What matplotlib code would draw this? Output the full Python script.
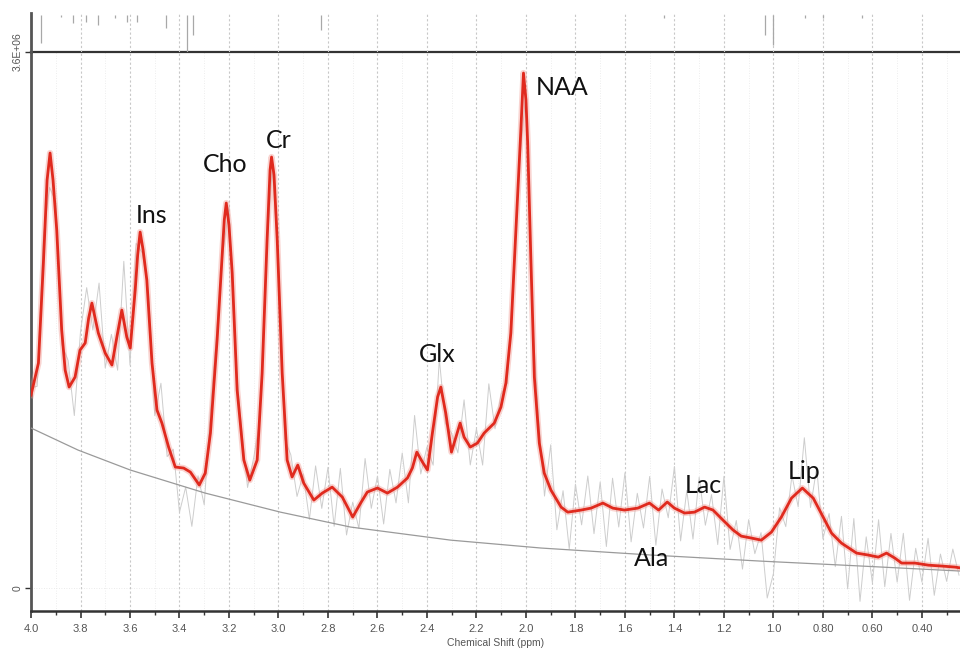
import numpy as np
import matplotlib.pyplot as plt
from matplotlib.ticker import MultipleLocator, FixedLocator

plt.rcParams['font.family'] = ['Liberation Sans', 'DejaVu Sans']

# fitted spectrum (red), chemical shift in ppm, intensity in 1e6
fit_ppm = [4.000, 3.970, 3.950, 3.935, 3.923, 3.911, 3.896, 3.876, 3.862, 3.846,
           3.822, 3.802, 3.781, 3.767, 3.754, 3.741, 3.728, 3.700, 3.673, 3.653,
           3.633, 3.613, 3.599, 3.579, 3.569, 3.559, 3.547, 3.532, 3.511, 3.491,
           3.471, 3.444, 3.417, 3.383, 3.356, 3.320, 3.296, 3.275, 3.248, 3.228,
           3.219, 3.211, 3.200, 3.187, 3.167, 3.140, 3.116, 3.086, 3.066, 3.046,
           3.034, 3.028, 3.018, 3.005, 2.985, 2.965, 2.945, 2.922, 2.898, 2.857,
           2.823, 2.783, 2.742, 2.721, 2.700, 2.668, 2.641, 2.600, 2.560, 2.519,
           2.479, 2.459, 2.441, 2.418, 2.398, 2.378, 2.357, 2.344, 2.324, 2.301,
           2.283, 2.266, 2.250, 2.225, 2.196, 2.169, 2.128, 2.101, 2.081, 2.061,
           2.040, 2.020, 2.010, 2.000, 1.993, 1.980, 1.966, 1.946, 1.926, 1.899,
           1.858, 1.831, 1.777, 1.737, 1.689, 1.649, 1.602, 1.548, 1.501, 1.464,
           1.429, 1.400, 1.359, 1.319, 1.278, 1.244, 1.204, 1.163, 1.130, 1.089,
           1.049, 1.008, 0.968, 0.927, 0.883, 0.839, 0.799, 0.765, 0.725, 0.664,
           0.617, 0.576, 0.543, 0.509, 0.482, 0.428, 0.374, 0.320, 0.266, 0.239]
fit_val = [1.296, 1.511, 2.183, 2.740, 2.922, 2.740, 2.404, 1.733, 1.464, 1.350,
           1.417, 1.598, 1.646, 1.813, 1.914, 1.813, 1.713, 1.578, 1.498, 1.686,
           1.867, 1.686, 1.612, 2.001, 2.237, 2.391, 2.270, 2.069, 1.511, 1.196,
           1.108, 0.947, 0.813, 0.806, 0.779, 0.692, 0.772, 1.041, 1.666, 2.223,
           2.472, 2.586, 2.438, 2.116, 1.330, 0.860, 0.725, 0.860, 1.444, 2.337,
           2.807, 2.895, 2.774, 2.337, 1.444, 0.860, 0.746, 0.826, 0.705, 0.591,
           0.638, 0.678, 0.611, 0.544, 0.477, 0.571, 0.645, 0.672, 0.638, 0.678,
           0.739, 0.806, 0.913, 0.846, 0.793, 1.041, 1.283, 1.350, 1.175, 0.913,
           1.014, 1.108, 1.014, 0.947, 0.974, 1.041, 1.108, 1.216, 1.377, 1.713,
           2.425, 3.096, 3.459, 3.278, 2.989, 2.203, 1.417, 0.974, 0.772, 0.658,
           0.544, 0.510, 0.524, 0.537, 0.571, 0.537, 0.524, 0.537, 0.571, 0.524,
           0.578, 0.537, 0.504, 0.510, 0.544, 0.524, 0.457, 0.390, 0.349, 0.336,
           0.322, 0.376, 0.477, 0.604, 0.672, 0.604, 0.477, 0.369, 0.302, 0.235,
           0.222, 0.208, 0.235, 0.201, 0.168, 0.168, 0.154, 0.148, 0.141, 0.134]

# baseline (thin grey curve)
base_ppm = [4.000, 3.810, 3.599, 3.296, 2.992, 2.709, 2.304, 1.939, 1.494, 1.049, 0.644, 0.239]
base_val = [1.075, 0.927, 0.793, 0.638, 0.510, 0.410, 0.322, 0.269, 0.222, 0.181, 0.148, 0.114]

# residual of raw data vs fit, every 0.025 ppm from 4.0 to 0.25
resid = [0.05, -0.12, 0.18, -0.20, 0.10, -0.08, 0.15, -0.25, 0.12, 0.30,
         -0.15, 0.35, -0.10, 0.20, -0.25, 0.40, -0.12, 0.22, -0.05, 0.10,
         -0.18, 0.25, -0.10, 0.08, -0.30, -0.12, -0.35, 0.05, -0.20, 0.15,
         0.10, -0.06, 0.12, -0.08, 0.05, -0.10, 0.08, -0.05, 0.06, -0.04,
         0.08, -0.15, 0.12, -0.20, 0.05, -0.18, 0.22, -0.10, 0.15, -0.25,
         0.18, -0.20, 0.10, -0.15, 0.25, -0.12, 0.08, -0.22, 0.15, -0.10,
         0.20, -0.18, 0.30, -0.10, 0.15, -0.25, 0.22, -0.08, 0.12, -0.15,
         0.25, -0.12, 0.10, -0.20, 0.30, -0.05, 0.08, -0.10, 0.06, -0.05,
         0.05, -0.08, 0.10, -0.15, 0.30, -0.20, 0.12, -0.25, 0.18, -0.10,
         0.22, -0.18, 0.15, -0.28, 0.20, -0.12, 0.25, -0.22, 0.10, -0.15,
         0.18, -0.25, 0.12, -0.10, 0.28, -0.20, 0.15, -0.18, 0.22, -0.12,
         0.10, -0.20, 0.30, -0.15, 0.08, -0.22, 0.12, -0.10, 0.05, -0.42,
         -0.30, 0.08, -0.12, 0.15, -0.10, 0.35, -0.08, 0.25, -0.15, 0.10,
         -0.20, 0.18, -0.28, 0.22, -0.32, 0.12, -0.18, 0.25, -0.22, 0.15,
         -0.15, 0.20, -0.25, 0.10, -0.12, 0.18, -0.20, 0.08, -0.10, 0.12,
         -0.05]
resid_ppm = np.linspace(4.0, 0.25, len(resid))

# spikes in the residual strip on top (lower end, strip goes 0..1)
top_ppm = [3.961, 3.879, 3.830, 3.777, 3.729, 3.660, 3.611, 3.571, 3.453, 3.368,
           3.344, 2.830, 1.441, 1.036, 1.000, 0.874, 0.798, 0.644]
top_low = [0.23, 0.90, 0.74, 0.77, 0.69, 0.88, 0.77, 0.77, 0.62, 0.0,
           0.44, 0.56, 0.88, 0.44, 0.18, 0.88, 0.88, 0.88]

labels = ['Ins', 'Cho', 'Cr', 'Glx', 'NAA', 'Lac', 'Lip', 'Ala']
lab_ppm = [3.514, 3.215, 3.000, 2.360, 1.854, 1.283, 0.874, 1.494]
lab_val = [2.505, 2.848, 3.009, 1.572, 3.365, 0.692, 0.786, 0.201]

fit_ppm = np.array(fit_ppm)
fit_val = np.array(fit_val)
# np.interp needs increasing x
raw_val = np.interp(resid_ppm, fit_ppm[::-1], fit_val[::-1]) + np.array(resid)

fig = plt.figure(figsize=(9.6, 6.58), dpi=100)
ax = fig.add_axes([0.0323, 0.0714, 0.9677, 0.8495])
top = fig.add_axes([0.0323, 0.921, 0.9677, 0.0593], sharex=ax)

xmin, xmax = 4.0, 0.246

# main panel
ax.plot(resid_ppm, raw_val, color='#cdcdcd', lw=0.7, zorder=2)
ax.plot(base_ppm, base_val, color='#9a9a9a', lw=0.9, zorder=3)
ax.plot(fit_ppm, fit_val, color='#f0958c', lw=4.5, alpha=0.4, zorder=4,
        solid_joinstyle='round')
ax.plot(fit_ppm, fit_val, color='#e02a1e', lw=2.0, zorder=5, solid_joinstyle='round')

for name, px, py in zip(labels, lab_ppm, lab_val):
    ax.text(px, py, name, fontsize=18, family='Lato', color='#111111',
            ha='center', va='center', zorder=6)

ax.set_xlim(xmin, xmax)
ax.set_ylim(-0.154, 3.6)

ax.xaxis.set_major_locator(FixedLocator([4.0, 3.8, 3.6, 3.4, 3.2, 3.0, 2.8, 2.6, 2.4, 2.2,
                                         2.0, 1.8, 1.6, 1.4, 1.2, 1.0, 0.8, 0.6, 0.4]))
ax.xaxis.set_minor_locator(MultipleLocator(0.1))
ax.set_xticklabels(['4.0', '3.8', '3.6', '3.4', '3.2', '3.0', '2.8', '2.6', '2.4', '2.2',
                    '2.0', '1.8', '1.6', '1.4', '1.2', '1.0', '0.80', '0.60', '0.40'])
ax.set_yticks([0, 3.6])
ax.set_yticklabels(['0', '3.6E+06'], rotation=90, va='center')

ax.tick_params(axis='x', which='major', direction='out', length=5, width=1.2,
               color='#333333', labelsize=8, labelcolor='#555555', pad=4)
ax.tick_params(axis='x', which='minor', direction='out', length=3, width=1.0, color='#333333')
ax.tick_params(axis='y', direction='out', length=4, width=1.0, color='#333333',
               labelsize=7.5, labelcolor='#555555', pad=2)

ax.grid(axis='x', which='major', color='#c8c8c8', lw=0.8, ls=(0, (2, 2)))
ax.grid(axis='x', which='minor', color='#e8e8e8', lw=0.6, ls=(0, (1, 2)))
ax.axhline(0, color='#e4e4e4', lw=0.6, ls=(0, (1, 2)), zorder=1)

ax.set_xlabel('Chemical Shift (ppm)', fontsize=7.5, color='#555555', labelpad=3)

ax.spines['right'].set_visible(False)
ax.spines['left'].set_color('#555555')
ax.spines['left'].set_linewidth(2.0)
ax.spines['bottom'].set_color('#333333')
ax.spines['bottom'].set_linewidth(1.8)
ax.spines['top'].set_color('#333333')
ax.spines['top'].set_linewidth(1.6)

# residual strip
top.vlines(top_ppm, top_low, 0.95, color='#a8a8a8', lw=0.9)
top.set_ylim(0, 1)
top.set_xlim(xmin, xmax)
top.grid(axis='x', which='major', color='#c8c8c8', lw=0.8, ls=(0, (2, 2)))
top.tick_params(axis='both', which='both', length=0, labelbottom=False, labelleft=False)
for s in ['top', 'right', 'bottom']:
    top.spines[s].set_visible(False)
top.spines['left'].set_color('#555555')
top.spines['left'].set_linewidth(2.0)
top.set_facecolor('none')

fig.savefig('out.png', dpi=100)
